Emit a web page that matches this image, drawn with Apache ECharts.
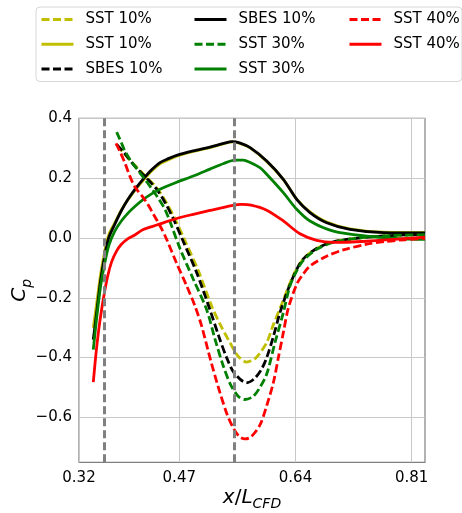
<!DOCTYPE html>
<html><head><meta charset="utf-8">
<script src="https://cdn.jsdelivr.net/npm/echarts@6/dist/echarts.min.js"></script>
<style>html,body{margin:0;padding:0;background:#fff}#c{width:462px;height:513px}</style>
</head><body><div id="c"></div>
<script>
// ---- data ----
const xTicks = [0.3233, 0.47, 0.64, 0.81];
const yTicks = [-0.6, -0.4, -0.2, 0, 0.2, 0.4];
const vLines = [0.3554, 0.5475];

const sst10DashX = [0.379,0.39,0.405,0.42,0.438,0.451,0.4635,0.4785,0.498,0.5174,0.53,0.5442,0.556,0.5686,0.58,0.5879,0.5979,0.6076,0.6198,0.6368,0.6515,0.671,0.6954,0.7344,0.78,0.8295];
const sst10DashY = [0.31,0.28,0.243,0.208,0.165,0.118,0.065,-0.01,-0.11,-0.228,-0.29,-0.35,-0.395,-0.415,-0.405,-0.385,-0.35,-0.29,-0.222,-0.125,-0.07,-0.035,-0.013,0.0,0.008,0.012];

const solidX = [0.3442,0.3491,0.355,0.3609,0.3667,0.3755,0.385,0.395,0.4054,0.4169,0.4296,0.4418,0.455,0.4662,0.4905,0.5149,0.535,0.5475,0.558,0.5737,0.5979,0.6222,0.6418,0.6612,0.6857,0.7197,0.7685,0.8295];
const sst10SolidY = [-0.30,-0.22,-0.12,-0.045,0.01,0.05,0.092,0.128,0.16,0.192,0.224,0.248,0.262,0.273,0.289,0.302,0.315,0.321,0.317,0.301,0.256,0.196,0.13,0.087,0.053,0.03,0.019,0.018];

const sbes10DashX = [0.3784,0.39,0.405,0.42,0.4369,0.45,0.4612,0.4759,0.4955,0.5149,0.528,0.5393,0.55,0.5686,0.58,0.59,0.5979,0.6076,0.6173,0.6295,0.6418,0.6515,0.671,0.6954,0.7344,0.78,0.8295];
const sbes10DashY = [0.313,0.283,0.24,0.205,0.163,0.115,0.065,-0.012,-0.116,-0.24,-0.33,-0.40,-0.45,-0.484,-0.47,-0.44,-0.40,-0.33,-0.25,-0.17,-0.105,-0.07,-0.035,-0.013,0.0,0.008,0.012];

const sbes10SolidY = [-0.34,-0.25,-0.14,-0.06,0.0,0.045,0.09,0.129,0.163,0.196,0.228,0.252,0.266,0.276,0.291,0.304,0.316,0.322,0.318,0.302,0.257,0.196,0.129,0.085,0.051,0.029,0.018,0.017];

const sst30DashX = [0.3784,0.385,0.3906,0.40,0.41,0.42,0.4296,0.44,0.4492,0.4564,0.471,0.4905,0.5101,0.5225,0.5344,0.545,0.5565,0.5661,0.578,0.5879,0.5979,0.61,0.6222,0.632,0.6418,0.6515,0.671,0.6954,0.7344,0.78,0.8295];
const sst30DashY = [0.354,0.32,0.29,0.255,0.225,0.195,0.165,0.13,0.095,0.055,-0.035,-0.138,-0.24,-0.34,-0.428,-0.49,-0.53,-0.54,-0.53,-0.5,-0.455,-0.35,-0.25,-0.16,-0.11,-0.075,-0.038,-0.015,0.0,0.008,0.011];

const sst30SolidX = [0.3442,0.349,0.355,0.3609,0.367,0.3755,0.385,0.395,0.405,0.417,0.43,0.4418,0.4662,0.4905,0.5149,0.535,0.5515,0.5637,0.5737,0.5879,0.5979,0.6222,0.6418,0.6612,0.6954,0.7441,0.79,0.8295];
const sst30SolidY = [-0.373,-0.27,-0.16,-0.085,-0.025,0.022,0.056,0.083,0.105,0.128,0.148,0.163,0.186,0.207,0.23,0.249,0.26,0.26,0.252,0.235,0.213,0.1515,0.0957,0.0565,0.023,0.006,-0.002,-0.005];

const sst40DashX = [0.3774,0.383,0.3906,0.398,0.4052,0.4173,0.4246,0.432,0.442,0.4516,0.4662,0.4808,0.493,0.5028,0.516,0.5295,0.54,0.549,0.5575,0.5661,0.575,0.5881,0.598,0.6076,0.615,0.6222,0.6295,0.6418,0.6515,0.6612,0.6857,0.71,0.7441,0.77,0.8,0.8295];
const sst40DashY = [0.316,0.29,0.25,0.205,0.17,0.135,0.11,0.08,0.04,-0.005,-0.085,-0.16,-0.228,-0.295,-0.41,-0.517,-0.59,-0.635,-0.663,-0.672,-0.665,-0.625,-0.56,-0.484,-0.40,-0.317,-0.235,-0.155,-0.12,-0.094,-0.061,-0.04,-0.021,-0.012,-0.006,-0.001];

const sst40SolidX = [0.3442,0.348,0.352,0.356,0.36,0.365,0.371,0.378,0.385,0.395,0.405,0.4173,0.43,0.4418,0.4662,0.4905,0.5149,0.5467,0.5613,0.575,0.5979,0.6222,0.6466,0.671,0.6954,0.7441,0.7929,0.8295];
const sst40SolidY = [-0.482,-0.39,-0.31,-0.245,-0.19,-0.13,-0.08,-0.045,-0.022,-0.002,0.01,0.028,0.038,0.047,0.065,0.079,0.092,0.108,0.112,0.11,0.093,0.057,0.014,-0.008,-0.015,-0.011,-0.003,0.003];

// ---- chart ----
const FONT = 'DejaVu Sans';
const zip = (xs, ys) => xs.map((x, i) => [x, ys[i]]);
const defs = [
  {name:'SST 10%|a', color:'#bfbf00', dash:true,  x:sst10DashX,  y:sst10DashY},
  {name:'SST 10%|b', color:'#bfbf00', dash:false, x:solidX,      y:sst10SolidY},
  {name:'SBES 10%|a',color:'#000000', dash:true,  x:sbes10DashX, y:sbes10DashY},
  {name:'SBES 10%|b',color:'#000000', dash:false, x:solidX,      y:sbes10SolidY},
  {name:'SST 30%|a', color:'#008000', dash:true,  x:sst30DashX,  y:sst30DashY},
  {name:'SST 30%|b', color:'#008000', dash:false, x:sst30SolidX, y:sst30SolidY},
  {name:'SST 40%|a', color:'#ff0000', dash:true,  x:sst40DashX,  y:sst40DashY},
  {name:'SST 40%|b', color:'#ff0000', dash:false, x:sst40SolidX, y:sst40SolidY}
];
const series = defs.map(d => ({
  name: d.name, type: 'line', data: zip(d.x, d.y), symbol: 'none',
  smooth: 0.3, animation: false,
  itemStyle: {color: d.color},
  lineStyle: {color: d.color, width: 2.8, type: d.dash ? [8, 3.5] : 'solid'}
}));
series.push({
  name: 'vlines', type: 'line', data: [], animation: false, silent: true,
  markLine: {
    symbol: 'none', silent: true, label: {show: false}, animation: false,
    lineStyle: {color: '#808080', width: 3, type: [8, 4]},
    data: vLines.map(v => ({xAxis: v}))
  },
  z: 10
});
const legendText = {fontFamily: FONT, fontSize: 15, color: '#000', padding: [0, 0, 0, 7]};
const fmt = n => n.split('|')[0];
const mkLegend = (left, names) => ({
  left: left, top: 12, padding: 0, orient: 'vertical', itemWidth: 32, itemHeight: 14, itemGap: 9.8,
  data: names, textStyle: legendText, formatter: fmt, selectedMode: false, z: 5,
  itemStyle: {opacity: 0, borderWidth: 0},
  lineStyle: {width: 3}
});
const chart = echarts.init(document.getElementById('c'), null, {renderer: 'canvas'});
chart.setOption({
  animation: false,
  backgroundColor: '#fff',
  graphic: [{
    type: 'rect', left: 35.5, top: 6.5, z: 1,
    shape: {width: 426, height: 74.5, r: 4},
    style: {fill: '#fff', stroke: '#d6d6d6', lineWidth: 1}
  }],
  legend: [
    mkLegend(40, ['SST 10%|a', 'SST 10%|b', 'SBES 10%|a']),
    mkLegend(193, ['SBES 10%|b', 'SST 30%|a', 'SST 30%|b']),
    mkLegend(348, ['SST 40%|a', 'SST 40%|b'])
  ],
  grid: {left: 79, top: 118.3, right: 37, bottom: 50.7, show: true, borderColor: '#808080', borderWidth: 1.2, backgroundColor: 'transparent', containLabel: false, outerBoundsMode: 'none'},
  xAxis: {
    type: 'value', min: 0.3233, max: 0.8295,
    axisLine: {show: false},
    axisTick: {show: false, customValues: xTicks},
    axisLabel: {customValues: xTicks, formatter: v => v.toFixed(2), fontFamily: FONT, fontSize: 15, color: '#000', margin: 8, alignMinLabel: 'center', alignMaxLabel: 'center'},
    splitLine: {show: true, lineStyle: {color: '#c8c8c8', width: 1}},
    name: '{i|x}{n|/}{i|L}{s|CFD}', nameLocation: 'middle', nameGap: 25, nameMoveOverlap: false,
    nameTextStyle: {rich: {
      i: {fontFamily: FONT, fontStyle: 'italic', fontSize: 20, color: '#000', verticalAlign: 'top'},
      n: {fontFamily: FONT, fontSize: 20, color: '#000', verticalAlign: 'top'},
      s: {fontFamily: FONT, fontStyle: 'italic', fontSize: 14, color: '#000', verticalAlign: 'top', padding: [10, 0, 0, 0]}
    }}
  },
  yAxis: {
    type: 'value', min: -0.75, max: 0.4,
    axisLine: {show: false},
    axisTick: {show: false, customValues: yTicks},
    axisLabel: {customValues: yTicks, formatter: v => (v < 0 ? '\u2212' : '') + Math.abs(v).toFixed(1), fontFamily: FONT, fontSize: 15, color: '#000', margin: 7},
    splitLine: {show: true, lineStyle: {color: '#c8c8c8', width: 1}},
    name: '{i|C}{s|p}', nameLocation: 'middle', nameGap: 45, nameRotate: 90, nameMoveOverlap: false,
    nameTextStyle: {rich: {
      i: {fontFamily: FONT, fontStyle: 'italic', fontSize: 20, color: '#000', verticalAlign: 'top'},
      s: {fontFamily: FONT, fontStyle: 'italic', fontSize: 14, color: '#000', verticalAlign: 'top', padding: [10, 0, 0, 0]}
    }}
  },
  series: series
});
</script>
</body></html>
